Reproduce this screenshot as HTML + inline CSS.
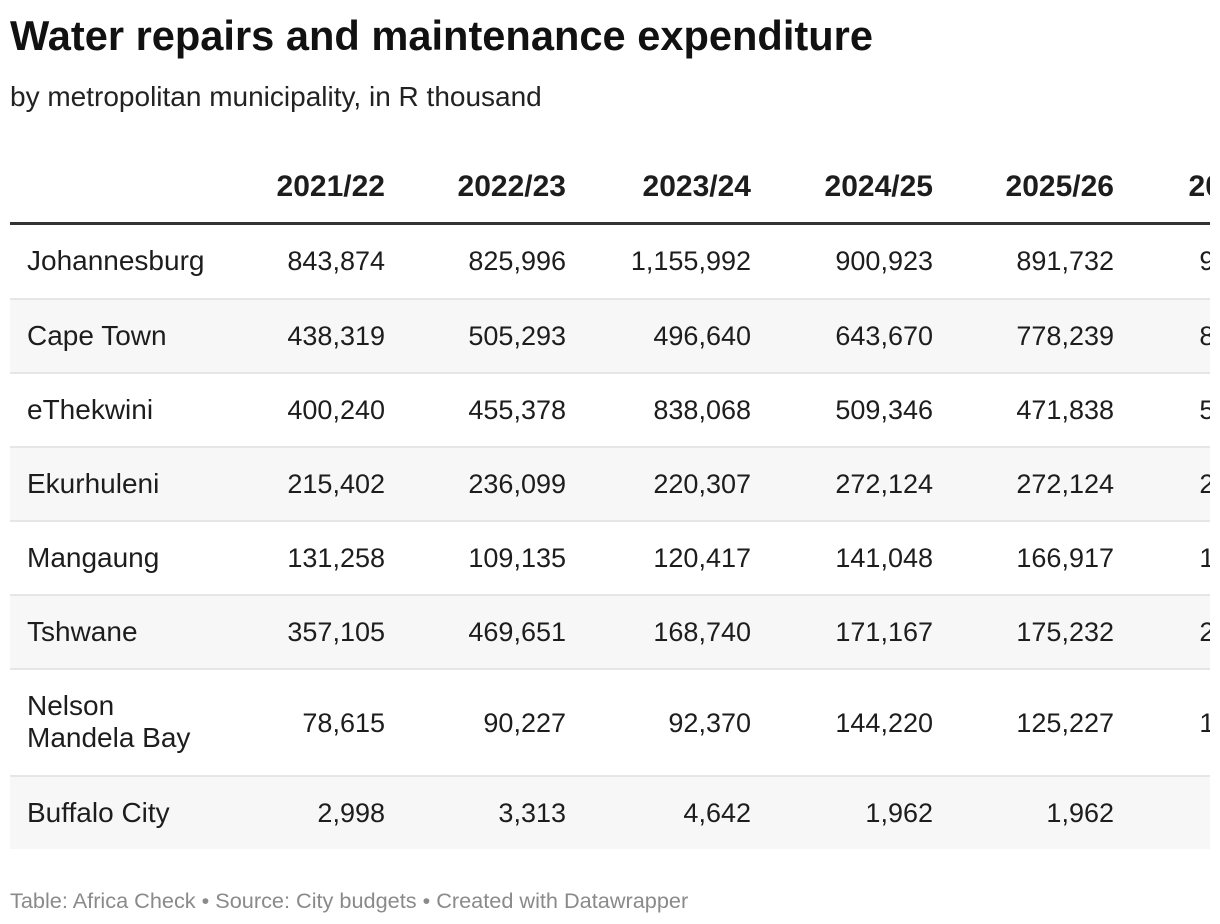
<!DOCTYPE html>
<html><head><meta charset="utf-8">
<style>
body{margin:0;width:1220px;height:924px;background:#fff;font-family:"Liberation Sans",sans-serif;color:#1d1d1d;overflow:hidden;position:relative}
.a{position:absolute;white-space:nowrap}
#title{left:10px;top:12px;font-size:41.6px;font-weight:bold;color:#111}
#sub{left:10px;top:81px;font-size:28px;color:#222}
#tbl{position:absolute;left:10px;top:150px;width:1200px;height:700px;overflow:hidden}
.row{position:absolute;left:0;width:1400px}
.c{position:absolute;font-size:27px;text-align:right;width:200px;white-space:nowrap}
.h{font-weight:bold;font-size:30px}
#foot{left:10px;top:888px;font-size:21.7px;color:#8a8a8a}
</style></head><body>
<div class="a" id="title">Water repairs and maintenance expenditure</div>
<div class="a" id="sub">by metropolitan municipality, in R thousand</div>
<div id="tbl"></div>
<div class="a" id="foot">Table: Africa Check • Source: City budgets • Created with Datawrapper</div>
<script>
const years=["2021/22","2022/23","2023/24","2024/25","2025/26","2026/27"];
const cities=["Johannesburg","Cape Town","eThekwini","Ekurhuleni","Mangaung","Tshwane","Nelson<br>Mandela Bay","Buffalo City"];
const values=[
["843,874","825,996","1,155,992","900,923","891,732","932,417"],
["438,319","505,293","496,640","643,670","778,239","813,260"],
["400,240","455,378","838,068","509,346","471,838","513,071"],
["215,402","236,099","220,307","272,124","272,124","284,369"],
["131,258","109,135","120,417","141,048","166,917","174,428"],
["357,105","469,651","168,740","171,167","175,232","201,517"],
["78,615","90,227","92,370","144,220","125,227","130,862"],
["2,998","3,313","4,642","1,962","1,962","2,050"]];
const colRight=[375,556,741,923,1104,1287];
const tbl=document.getElementById('tbl');
const hr=document.createElement('div');hr.className='row';hr.style.top='0px';hr.style.height='72px';


years.forEach((y,i)=>{const c=document.createElement('div');c.className='c h';c.style.left=(colRight[i]-200)+'px';c.style.top='20px';c.innerHTML=y;


hr.appendChild(c);});
tbl.appendChild(hr);
const ln=document.createElement('div');ln.style.cssText='position:absolute;left:0;top:72px;width:1400px;height:3px;background:#333';


tbl.appendChild(ln);
let yPos=75;
cities.forEach((city,r)=>{
  const h=(r===6)?107:(r===0?73:74);
  const row=document.createElement('div');row.className='row';
  row.style.top=yPos+'px';row.style.height=h+'px';
  row.style.background=(r%2===1)?'#f7f7f7':'#fff';
  if(r>0)row.style.borderTop='2px solid #e6e6e6';
  row.style.boxSizing='border-box';
  
  
  const two=city.includes('<br>');
  const n=document.createElement('div');n.className='c';n.style.textAlign='left';n.style.left='17px';n.style.width='220px';n.style.fontSize='28px';
  n.style.lineHeight='32px';n.style.top=(two?(h/2-34):(h/2-17))+'px';n.innerHTML=city;
  
  
  row.appendChild(n);
  values[r].forEach((v,i)=>{const c=document.createElement('div');c.className='c';c.style.left=(colRight[i]-200)+'px';
    c.style.lineHeight='32px';c.style.top=(h/2-17)+'px';c.textContent=v;
    
    
    row.appendChild(c);});
  tbl.appendChild(row);yPos+=h;
});
</script>
</body></html>
